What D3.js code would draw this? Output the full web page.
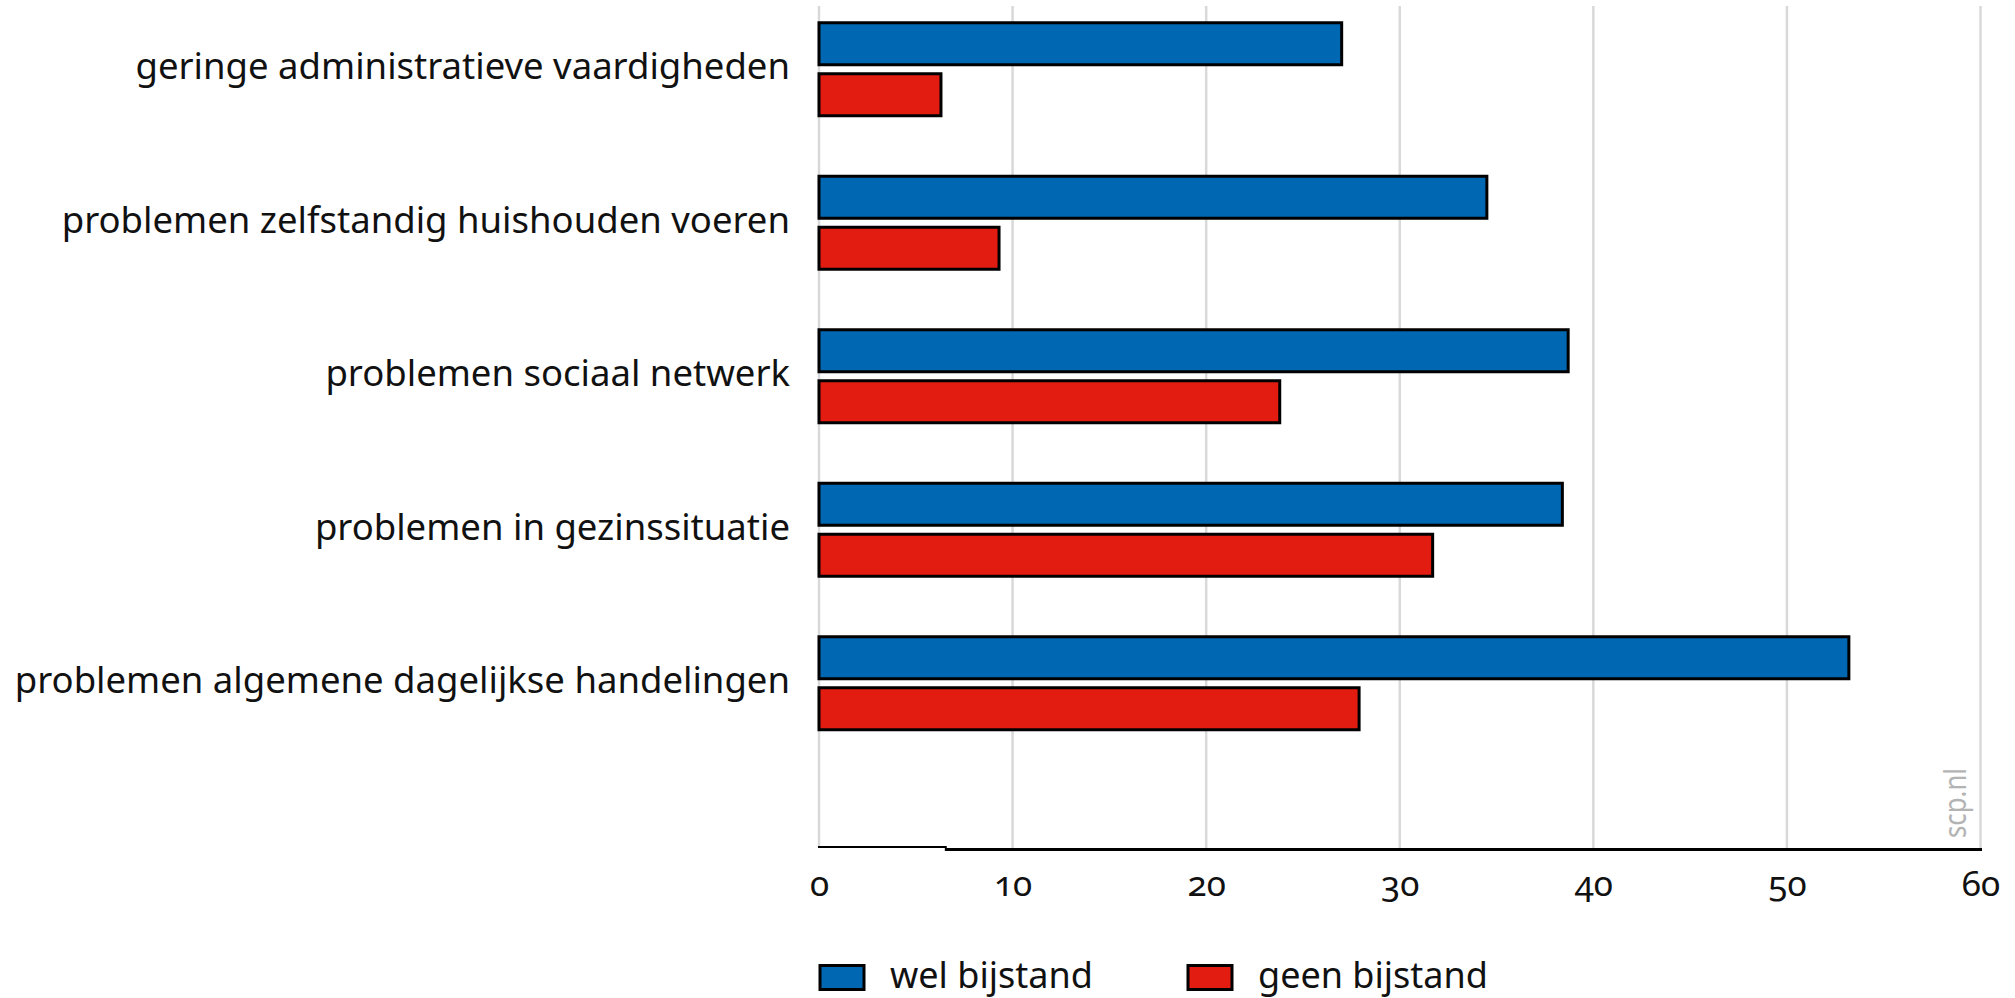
<!DOCTYPE html>
<html>
<head>
<meta charset="utf-8">
<script src="https://cdn.jsdelivr.net/npm/d3@7"></script>
<style>
  html, body { margin: 0; padding: 0; background: #fff; }
  svg { display: block; font-family: "Noto Sans", sans-serif; }
  .num { font-variant-numeric: oldstyle-nums; }
</style>
</head>
<body>
<svg id="chart" width="2015" height="998"></svg>
<script>
// categories, top to bottom
const categories = [
  'geringe administratieve vaardigheden',
  'problemen zelfstandig huishouden voeren',
  'problemen sociaal netwerk',
  'problemen in gezinssituatie',
  'problemen algemene dagelijkse handelingen'
];
const seriesNames = ['wel bijstand', 'geen bijstand'];
const welBijstand  = [27.0, 34.5, 38.7, 38.4, 53.2];
const geenBijstand = [6.3, 9.3, 23.8, 31.7, 27.9];
const xTicks = [0, 10, 20, 30, 40, 50, 60];

const colors = { 'wel bijstand': '#0067b2', 'geen bijstand': '#e31c12' };

const svg = d3.select('#chart');
const plotTop = 6, plotBottom = 848;

const x = d3.scaleLinear().domain([0, 60]).range([819, 1980.5]);
const y = d3.scaleBand().domain(categories).range([-7.5, 760]).padding(0);
const ySub = d3.scaleBand().domain(seriesNames).range([-46.5, 46.5]).paddingInner(9 / 51);

const rows = categories.map((c, i) => ({
  cat: c,
  values: [
    { key: 'wel bijstand', v: welBijstand[i] },
    { key: 'geen bijstand', v: geenBijstand[i] }
  ]
}));

// gridlines
svg.append('g')
  .selectAll('line')
  .data(xTicks)
  .join('line')
  .attr('x1', d => x(d)).attr('x2', d => x(d))
  .attr('y1', plotTop).attr('y2', plotBottom)
  .attr('stroke', '#d9d9d9')
  .attr('stroke-width', 2.5);

// watermark
svg.append('text')
  .attr('transform', `translate(1966,838) rotate(-90)`)
  .attr('font-size', 30)
  .attr('fill', '#b3b3b3')
  .attr('textLength', 70)
  .attr('lengthAdjust', 'spacingAndGlyphs')
  .text('scp.nl');

// bars
const groups = svg.append('g')
  .selectAll('g')
  .data(rows)
  .join('g')
  .attr('transform', d => `translate(0,${y(d.cat) + y.bandwidth() / 2})`);

groups.selectAll('rect')
  .data(d => d.values)
  .join('rect')
  .attr('x', x(0))
  .attr('y', d => ySub(d.key))
  .attr('width', d => x(d.v) - x(0))
  .attr('height', ySub.bandwidth())
  .attr('fill', d => colors[d.key])
  .attr('stroke', '#000')
  .attr('stroke-width', 3);

// category labels
groups.append('text')
  .attr('x', 790)
  .attr('y', 10)
  .attr('text-anchor', 'end')
  .attr('font-size', 36.5)
  .attr('fill', '#111')
  .text(d => d.cat);

// x axis line (slightly offset near zero, as in the original)
svg.append('line')
  .attr('x1', x(0) - 1).attr('x2', x(6.6))
  .attr('y1', 847).attr('y2', 847)
  .attr('stroke', '#000').attr('stroke-width', 1.8);
svg.append('line')
  .attr('x1', x(6.5)).attr('x2', x(60) + 1.5)
  .attr('y1', 849.5).attr('y2', 849.5)
  .attr('stroke', '#000').attr('stroke-width', 3);

// tick labels
const xAxis = d3.axisBottom(x).tickValues(xTicks).tickSize(0).tickPadding(0);
const ax = svg.append('g')
  .attr('transform', 'translate(0,870)')
  .call(xAxis);
ax.select('.domain').remove();
ax.selectAll('text')
  .attr('class', 'num')
  .attr('dy', null)
  .attr('y', 26)
  .attr('font-size', 35)
  .attr('font-family', '"Noto Sans", sans-serif')
  .attr('fill', '#111');

// legend
const legendX = [820, 1188];
const lg = svg.append('g')
  .selectAll('g')
  .data(seriesNames)
  .join('g')
  .attr('transform', (d, i) => `translate(${legendX[i]},965.5)`);
lg.append('rect')
  .attr('width', 44).attr('height', 24)
  .attr('fill', d => colors[d])
  .attr('stroke', '#000').attr('stroke-width', 3);
lg.append('text')
  .attr('x', 70).attr('y', 22.5)
  .attr('font-size', 36)
  .attr('fill', '#111')
  .text(d => d);
</script>
</body>
</html>
